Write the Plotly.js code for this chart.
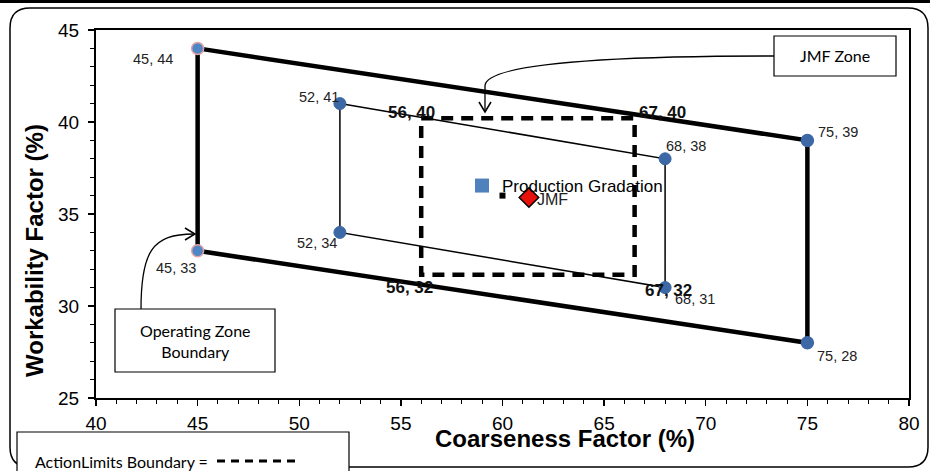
<!DOCTYPE html>
<html>
<head>
<meta charset="utf-8">
<script src="https://cdn.plot.ly/plotly-3.0.1.min.js"></script>
<style>
html,body{margin:0;padding:0;background:#fff;}
#chart{width:930px;height:471px;}
</style>
</head>
<body>
<div id="chart"></div>
<script>
// ---- data ----
var outerX = [45, 75, 75, 45];
var outerY = [44, 39, 28, 33];
var innerX = [52, 68, 68, 52];
var innerY = [41, 38, 31, 34];
var jmfX = [56, 66.5, 66.5, 56];
var jmfY = [40.2, 40.2, 31.7, 31.7];
var jmfLabelX = [56, 67, 56, 67];
var jmfLabelY = [40, 40, 32, 32];
var prodX = [60];
var prodY = [36];
var targetX = [61.3];
var targetY = [35.9];
var xTicks = [40, 45, 50, 55, 60, 65, 70, 75, 80];
var yTicks = [25, 30, 35, 40, 45];

// ---- layout helpers (pixel -> paper) ----
var L = 96, T = 30, W = 813, H = 368;
function px(x){ return (x - L) / W; }
function py(y){ return (T + H - y) / H; }
function P(x, y){ return px(x).toFixed(5) + ',' + py(y).toFixed(5); }

function closed(a){ return a.concat([a[0]]); }

var traces = [
  {x: closed(outerX), y: closed(outerY), mode: 'lines', line: {color: '#000', width: 4.5}, showlegend: false, hoverinfo: 'skip'},
  {x: closed(innerX), y: closed(innerY), mode: 'lines', line: {color: '#000', width: 1.5}, showlegend: false, hoverinfo: 'skip'},
  {x: closed(jmfX), y: closed(jmfY), mode: 'lines', line: {color: '#000', width: 4.5, dash: '12px,8px'}, showlegend: false, hoverinfo: 'skip'},
  {x: outerX, y: outerY, mode: 'markers', showlegend: false,
   marker: {size: 12, color: ['#4F86C6', '#3C69A6', '#3C69A6', '#4F86C6'],
            line: {color: ['#E3A3A3', '#3C69A6', '#3C69A6', '#E3A3A3'], width: 1.5}}},
  {x: innerX, y: innerY, mode: 'markers', showlegend: false,
   marker: {size: 12, color: '#3C69A6', line: {color: '#3C69A6', width: 1}}},
  {x: prodX, y: prodY, mode: 'markers', showlegend: false,
   marker: {symbol: 'square', size: 6, color: '#000'}},
  {x: targetX, y: targetY, mode: 'markers', showlegend: false,
   marker: {symbol: 'diamond', size: 15, color: '#E8120C', line: {color: '#000', width: 1.5}}},
  {x: [null], y: [null], mode: 'markers', name: 'Production Gradation', showlegend: true,
   marker: {symbol: 'square', size: 14, color: '#4F81BD'}}
];

var annotations = [];
// plain point labels
var ptX = outerX.concat(innerX);
var ptY = outerY.concat(innerY);
var ptShiftX = [-45, 31, 30, -22, -21, 21, 30, -23];
var ptShiftY = [-11, 8, -13, -17, 7, 13, -11, -11];
for (var i = 0; i < ptX.length; i++) {
  annotations.push({x: ptX[i], y: ptY[i], text: ptX[i] + ', ' + ptY[i], showarrow: false,
    xshift: ptShiftX[i], yshift: ptShiftY[i],
    font: {family: 'Liberation Sans, Arial', size: 14.5, color: '#222'}});
}
// bold JMF corner labels
var jShiftX = [-10, 18, -12, 24];
var jShiftY = [10, 10, -18, -21];
for (var j = 0; j < jmfLabelX.length; j++) {
  annotations.push({x: jmfLabelX[j], y: jmfLabelY[j], text: '<b>' + jmfLabelX[j] + ', ' + jmfLabelY[j] + '</b>',
    showarrow: false, xshift: jShiftX[j], yshift: jShiftY[j],
    font: {family: 'Liberation Sans, Arial', size: 17, color: '#111'}});
}
annotations.push({x: targetX[0], y: targetY[0], text: 'JMF', showarrow: false, xshift: 24, yshift: -2,
  font: {family: 'Liberation Sans, Arial', size: 16, color: '#222'}});

function paperText(x, y, text, font, extra){
  var a = {xref: 'paper', yref: 'paper', x: px(x), y: py(y), text: text, showarrow: false,
    xanchor: 'center', yanchor: 'middle', font: font};
  for (var k in (extra || {})) a[k] = extra[k];
  annotations.push(a);
}
var boxFont = {family: 'Lato, Carlito, sans-serif', size: 16, color: '#000'};
var titleFont = {family: 'Liberation Sans, Arial', size: 24, color: '#000'};
// axis titles
paperText(565, 439, '<b>Coarseness Factor (%)</b>', titleFont);
paperText(34, 251, '<b>Workability Factor (%)</b>', titleFont, {textangle: -90});
// text boxes
paperText(835, 56, 'JMF Zone', boxFont);
paperText(195, 341, 'Operating Zone<br>Boundary', boxFont);
paperText(33, 461, 'ActionLimits Boundary =', {family: 'Lato, Carlito, sans-serif', size: 16, color: '#000'}, {xanchor: 'left'});

function rect(x0, y0, x1, y1, w){
  return {type: 'rect', xref: 'paper', yref: 'paper', x0: px(x0), y0: py(y0), x1: px(x1), y1: py(y1),
    line: {color: '#000', width: w || 1.2}, fillcolor: 'rgba(255,255,255,1)', layer: 'above'};
}
function pathShape(d, w){
  return {type: 'path', xref: 'paper', yref: 'paper', path: d, line: {color: '#000', width: w || 1.3}, layer: 'above'};
}
var r = 20, bx0 = 10, by0 = 8, bx1 = 928, by1 = 467;
var border = 'M' + P(bx0, by0 + r) + ' Q' + P(bx0, by0) + ' ' + P(bx0 + r, by0) +
  ' L' + P(bx1 - r, by0) + ' Q' + P(bx1, by0) + ' ' + P(bx1, by0 + r) +
  ' L' + P(bx1, by1 - r) + ' Q' + P(bx1, by1) + ' ' + P(bx1 - r, by1) +
  ' L' + P(bx0 + r, by1) + ' Q' + P(bx0, by1) + ' ' + P(bx0, by1 - r) + ' Z';

var shapes = [
  pathShape(border, 1.5),
  {type: 'line', xref: 'paper', yref: 'paper', x0: px(0), x1: px(930), y0: py(1.5), y1: py(1.5), line: {color: '#000', width: 3}},
  rect(774, 36, 896, 76),
  rect(115, 309, 275, 372),
  rect(17, 432, 349, 476),
  {type: 'line', xref: 'paper', yref: 'paper', x0: px(217), x1: px(297), y0: py(461), y1: py(461),
   line: {color: '#000', width: 3, dash: '8px,6px'}, layer: 'above'},
  pathShape('M' + P(774, 56) + ' C' + P(600, 56) + ' ' + P(485, 64) + ' ' + P(485, 86) + ' L' + P(485, 111)),
  pathShape('M' + P(479, 102) + ' L' + P(485, 112) + ' L' + P(491, 102), 1.5),
  pathShape('M' + P(141, 309) + ' C' + P(141, 252) + ' ' + P(152, 234) + ' ' + P(194, 234)),
  pathShape('M' + P(185, 228) + ' L' + P(195, 234) + ' L' + P(185, 240), 1.5)
];

var axisFont = {family: 'Liberation Sans, Arial', size: 19, color: '#000'};
var layout = {
  width: 930, height: 471,
  margin: {l: L, r: 930 - L - W, t: T, b: 471 - T - H},
  paper_bgcolor: '#fff', plot_bgcolor: '#fff',
  showlegend: true,
  legend: {x: px(462), y: py(186), xanchor: 'left', yanchor: 'middle', bgcolor: 'rgba(0,0,0,0)',
    font: {family: 'Liberation Sans, Arial', size: 17, color: '#000'}},
  xaxis: {range: [40, 80], tickvals: xTicks, ticktext: xTicks.map(String), showgrid: false, zeroline: false,
    showline: true, mirror: true, linecolor: '#000', linewidth: 2,
    ticks: 'outside', ticklen: 6, tickwidth: 1.3, tickcolor: '#000', tickfont: axisFont, ticklabelstandoff: 1,
    minor: {dtick: 1, ticks: 'outside', ticklen: 4, tickwidth: 1, tickcolor: '#000', showgrid: false}},
  yaxis: {range: [25, 45], tickvals: yTicks, ticktext: yTicks.map(String), showgrid: false, zeroline: false,
    showline: true, mirror: true, linecolor: '#000', linewidth: 2,
    ticks: 'outside', ticklen: 6, tickwidth: 1.3, tickcolor: '#000', tickfont: axisFont, ticklabelstandoff: 5,
    minor: {dtick: 1, ticks: 'outside', ticklen: 4, tickwidth: 1, tickcolor: '#000', showgrid: false}},
  annotations: annotations,
  shapes: shapes
};

Plotly.newPlot('chart', traces, layout, {displayModeBar: false, staticPlot: true});
</script>
</body>
</html>
